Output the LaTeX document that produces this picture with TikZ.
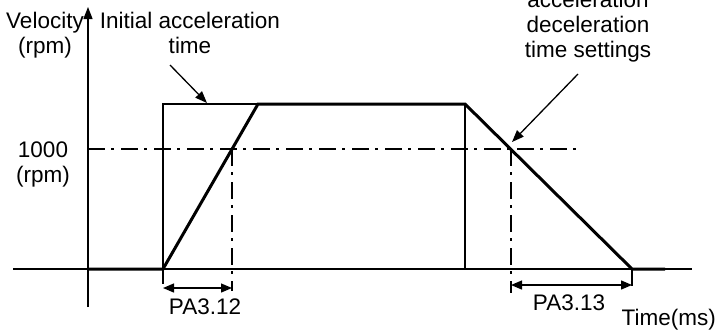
\documentclass[tikz,border=0pt]{standalone}
\usepackage{fontspec}
\setmainfont{Liberation Sans}
\usetikzlibrary{arrows.meta}
\tikzset{
  thinln/.style={line width=1.3pt},
  boldln/.style={line width=3pt},
  dashdot/.style={line width=1.2pt, dash pattern=on 17pt off 6pt on 3pt off 7pt},
  lbl/.style={font=\fontsize{22.5}{25}\selectfont, inner sep=0pt, align=center, anchor=base},
  tip/.style={-{Triangle[length=12pt,width=9pt]}},
  dimarr/.style={line width=1.3pt, {Triangle[length=11pt,width=9pt]}-{Triangle[length=11pt,width=9pt]}}
}
\begin{document}
\begin{tikzpicture}[x=1pt,y=-1pt]
\useasboundingbox (0,0) rectangle (717,330);
% coordinates
\coordinate (o) at (88,269);
\coordinate (ytop) at (88,7);
\coordinate (ybot) at (88,307);
\coordinate (xl) at (13,269);
\coordinate (xr) at (692,269);
\coordinate (s) at (163,269);
\coordinate (a) at (258,104);
\coordinate (b) at (465,104);
\coordinate (e) at (632,269);
\coordinate (f) at (665,269);
\coordinate (sTop) at (163,104);
\coordinate (bBot) at (465,269);
\coordinate (h0) at (88,149);
\coordinate (h1) at (580,149);
\coordinate (p1) at (232,149);
\coordinate (p1b) at (232,291);
\coordinate (p2) at (511,149);
\coordinate (p2b) at (511,293);
\coordinate (t1) at (163,284);
\coordinate (t2) at (632,286);
\coordinate (d1l) at (163,288);
\coordinate (d1r) at (232,288);
\coordinate (d2l) at (511,285);
\coordinate (d2r) at (632,285);
% axes
\draw[thinln] (xl) -- (xr);
\draw[thinln, tip] (ybot) -- (ytop);
% thin rectangle
\draw[thinln] (s) -- (sTop) -- (a);
\draw[thinln] (b) -- (bBot);
% profile
\draw[boldln, line join=miter] (o) -- (s) -- (a) -- (b) -- (e) -- (f);
% dash-dot lines
\draw[dashdot] (h0) -- (h1);
\draw[dashdot] (p1) -- (p1b);
\draw[dashdot] (p2) -- (p2b);
% ticks
\draw[thinln] (s) -- (t1);
\draw[thinln] (e) -- (t2);
% dimension arrows
\draw[dimarr] (d1l) -- (d1r);
\draw[dimarr] (d2l) -- (d2r);
% labels (base anchor = baseline of the last line)
\node[lbl] (vel) at (45,53) {Velocity\\(rpm)};
\node[lbl] (init) at (190,53) {Initial acceleration\\time};
\node[lbl] (set) at (588,57) {acceleration\\deceleration\\time settings};
\node[lbl] (k) at (43,182) {1000\\(rpm)};
\node[lbl] (pa12) at (205,314) {PA3.12};
\node[lbl] (pa13) at (569,310) {PA3.13};
\node[lbl, anchor=base east] (tm) at (716,325) {Time(ms)};
% pointer arrows
\coordinate (i1) at (170,65);
\coordinate (i2) at (207,103);
\coordinate (j1) at (578,74);
\coordinate (j2) at (512,142);
\draw[thinln, tip] (i1) -- (i2);
\draw[thinln, tip] (j1) -- (j2);
\end{tikzpicture}
\end{document}
